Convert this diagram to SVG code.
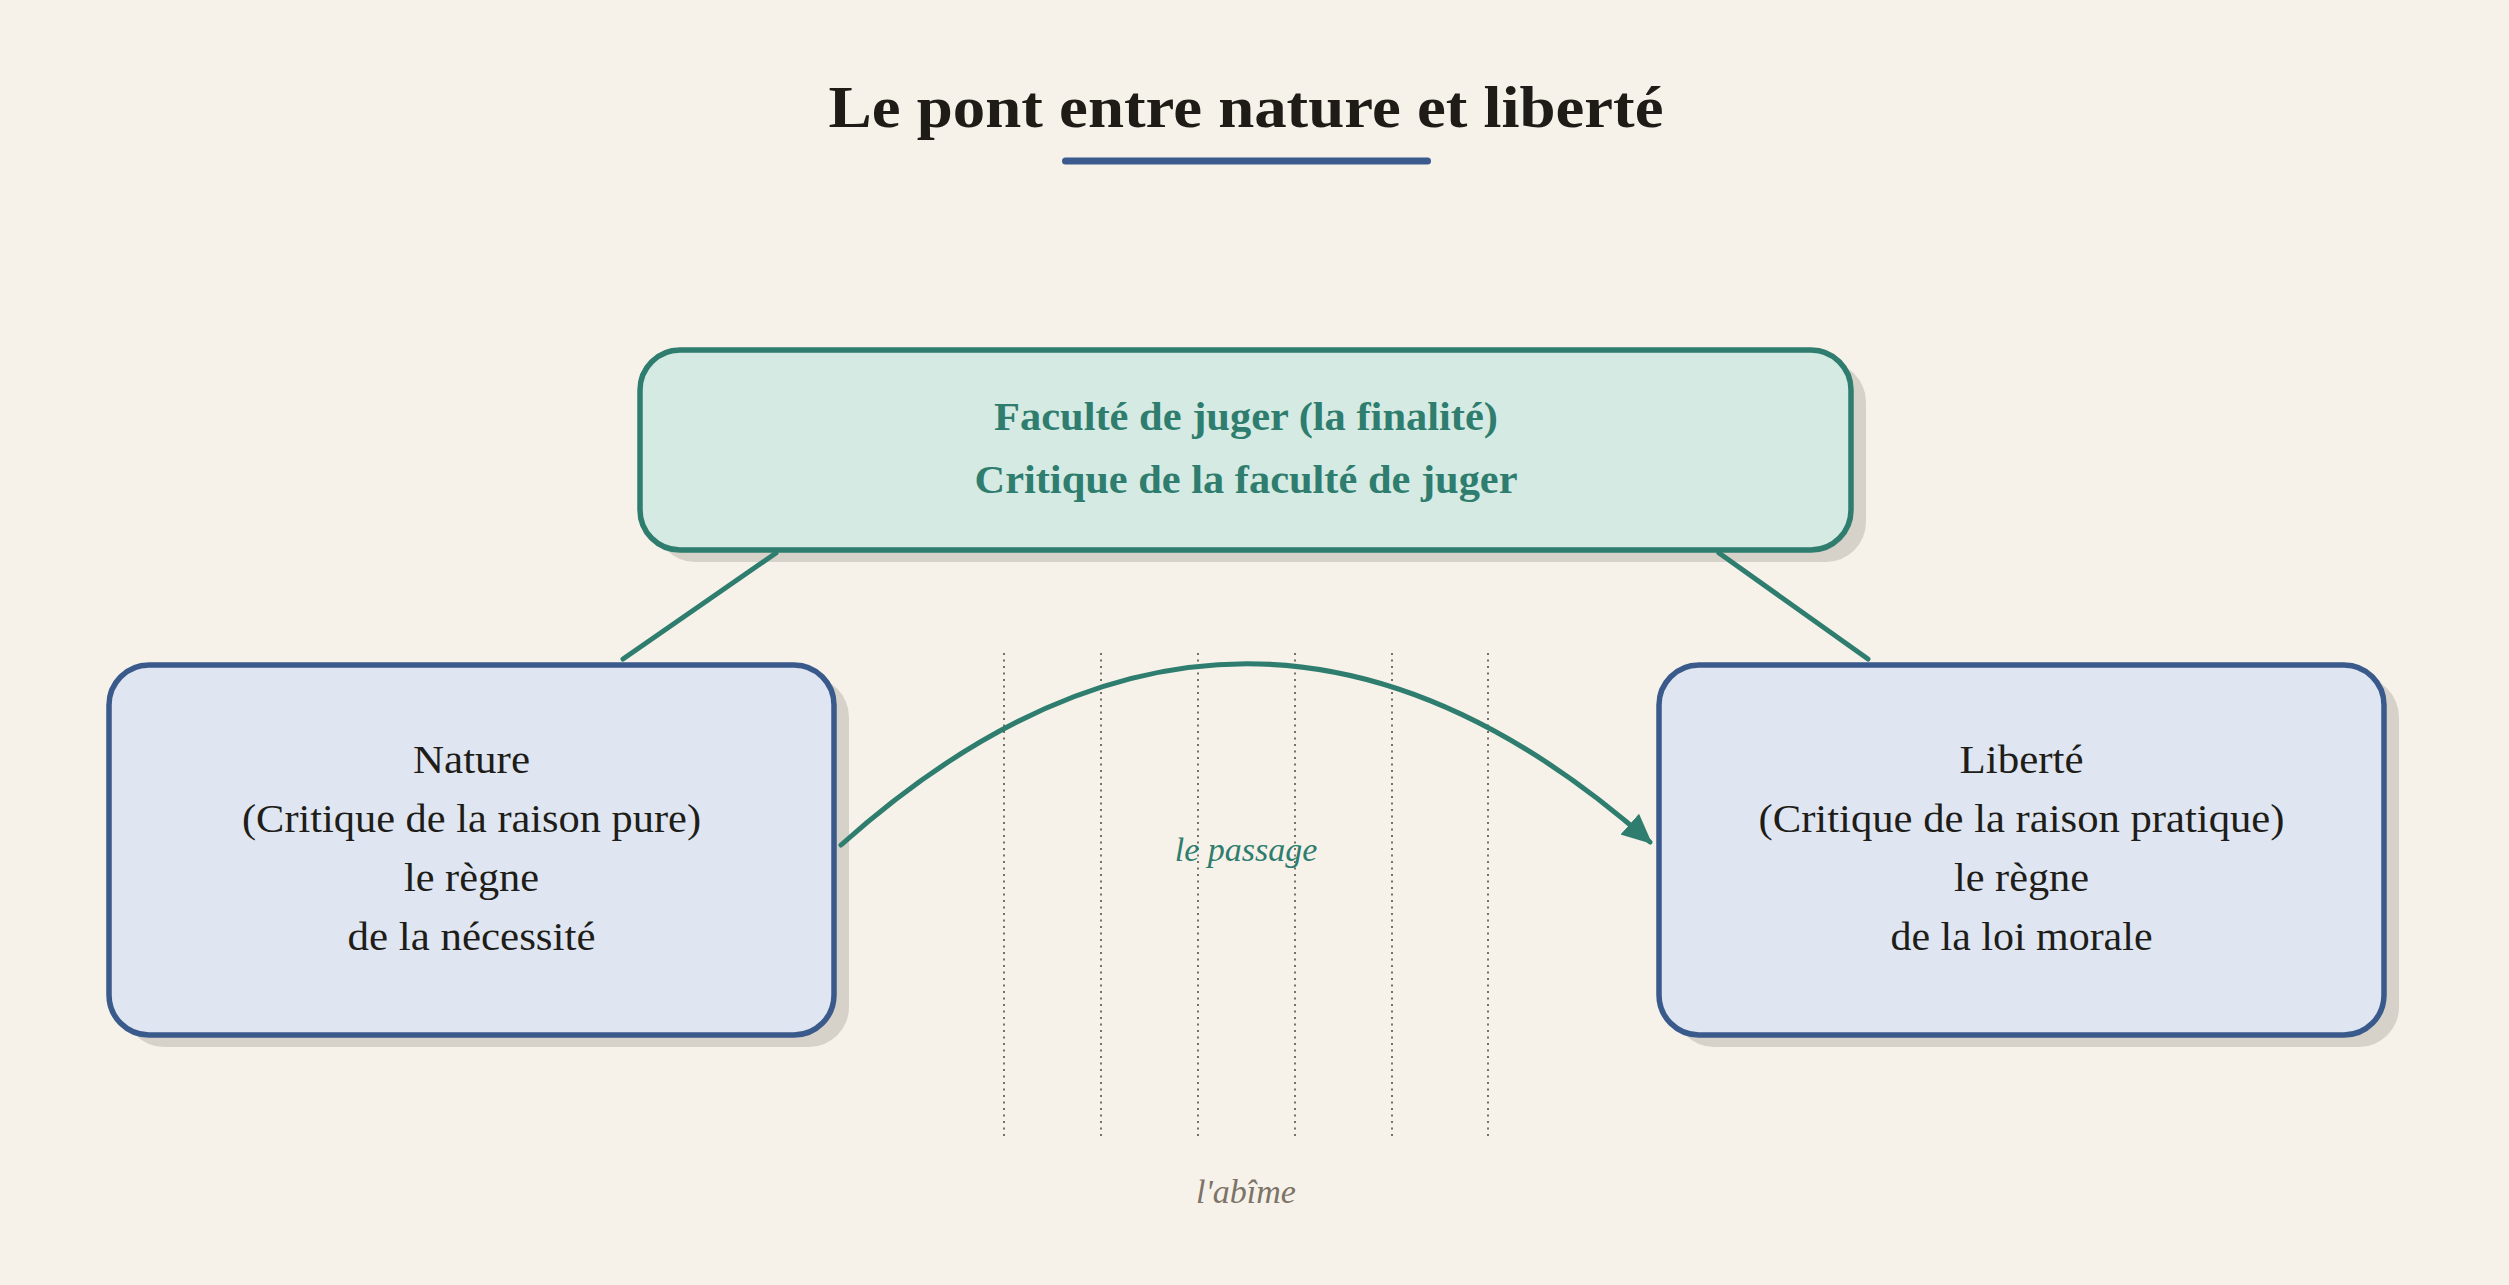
<svg xmlns="http://www.w3.org/2000/svg" width="2509" height="1285" viewBox="0 0 2509 1285">
<style>
  .serif { font-family: "Liberation Serif", "DejaVu Serif", serif; }
  .title { font-size: 60px; font-weight: bold; fill: #1f1c17; }
  .shadow { fill: #d6d1c9; }
  .teal-box { fill: #d4eae3; stroke: #2e7d6e; stroke-width: 5.5; }
  .blue-box { fill: #dfe6f1; stroke: #3a5a8c; stroke-width: 5.5; }
  .teal-text { font-size: 40px; font-weight: bold; fill: #2e7d6e; }
  .node-text { font-size: 40px; fill: #201d19; }
  .conn { stroke: #2e7d6e; stroke-width: 5; fill: none; stroke-linecap: round; }
  .abyss { stroke: #7a6f63; stroke-width: 2; stroke-dasharray: 2 4.5; }
  .label-teal { font-size: 34px; font-style: italic; fill: #2e7d6e; }
  .label-gray { font-size: 34px; font-style: italic; fill: #7d7366; }
</style>
<defs>
  <marker id="arrow" markerUnits="userSpaceOnUse" viewBox="0 0 30 30" refX="27" refY="15" markerWidth="30" markerHeight="30" orient="auto">
    <path d="M0,1 L30,15 L0,29 z" fill="#2e7d6e"/>
  </marker>
</defs>
<rect x="0" y="0" width="2509" height="1285" fill="#f6f2ea"/>

<g id="title">
  <text class="serif title" x="1246" y="127" text-anchor="middle" textLength="835" lengthAdjust="spacingAndGlyphs">Le pont entre nature et liberté</text>
  <line x1="1065.5" y1="161" x2="1427.5" y2="161" stroke="#3b5b8e" stroke-width="7" stroke-linecap="round"/>
</g>

<g id="abyss">
  <line class="abyss" x1="1004" y1="653" x2="1004" y2="1138"/>
  <line class="abyss" x1="1101" y1="653" x2="1101" y2="1138"/>
  <line class="abyss" x1="1198" y1="653" x2="1198" y2="1138"/>
  <line class="abyss" x1="1295" y1="653" x2="1295" y2="1138"/>
  <line class="abyss" x1="1392" y1="653" x2="1392" y2="1138"/>
  <line class="abyss" x1="1488" y1="653" x2="1488" y2="1138"/>
  <text class="serif label-gray" x="1246" y="1203" text-anchor="middle">l'abîme</text>
</g>

<g id="node-faculte">
  <rect class="shadow" x="655" y="362" width="1211" height="200" rx="40"/>
  <rect class="teal-box" x="640" y="350" width="1211" height="200" rx="40"/>
  <text class="serif teal-text" x="1246" y="430" text-anchor="middle" textLength="504" lengthAdjust="spacingAndGlyphs">Faculté de juger (la finalité)</text>
  <text class="serif teal-text" x="1246" y="493" text-anchor="middle" textLength="543" lengthAdjust="spacingAndGlyphs">Critique de la faculté de juger</text>
</g>

<g id="node-nature">
  <rect class="shadow" x="124" y="677" width="725" height="370" rx="40"/>
  <rect class="blue-box" x="109" y="665" width="725" height="370" rx="40"/>
  <text class="serif node-text" x="471.5" y="773" text-anchor="middle" textLength="117" lengthAdjust="spacingAndGlyphs">Nature</text>
  <text class="serif node-text" x="471.5" y="832" text-anchor="middle" textLength="459" lengthAdjust="spacingAndGlyphs">(Critique de la raison pure)</text>
  <text class="serif node-text" x="471.5" y="891" text-anchor="middle" textLength="135" lengthAdjust="spacingAndGlyphs">le règne</text>
  <text class="serif node-text" x="471.5" y="950" text-anchor="middle" textLength="248" lengthAdjust="spacingAndGlyphs">de la nécessité</text>
</g>

<g id="node-liberte">
  <rect class="shadow" x="1674" y="677" width="725" height="370" rx="40"/>
  <rect class="blue-box" x="1659" y="665" width="725" height="370" rx="40"/>
  <text class="serif node-text" x="2021.5" y="773" text-anchor="middle" textLength="124" lengthAdjust="spacingAndGlyphs">Liberté</text>
  <text class="serif node-text" x="2021.5" y="832" text-anchor="middle" textLength="526" lengthAdjust="spacingAndGlyphs">(Critique de la raison pratique)</text>
  <text class="serif node-text" x="2021.5" y="891" text-anchor="middle" textLength="135" lengthAdjust="spacingAndGlyphs">le règne</text>
  <text class="serif node-text" x="2021.5" y="950" text-anchor="middle" textLength="262" lengthAdjust="spacingAndGlyphs">de la loi morale</text>
</g>

<g id="connectors">
  <line class="conn" x1="776" y1="553" x2="623" y2="659"/>
  <line class="conn" x1="1719" y1="553" x2="1868" y2="659"/>
  <path class="conn" d="M841,845 Q1245,484 1650,842" marker-end="url(#arrow)"/>
  <text class="serif label-teal" x="1246" y="861" text-anchor="middle">le passage</text>
</g>
</svg>
